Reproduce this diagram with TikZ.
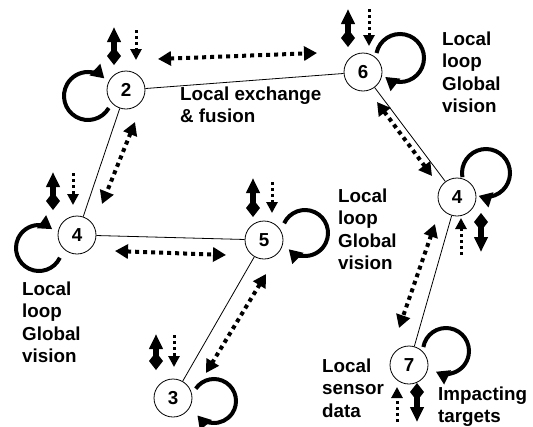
\documentclass[tikz,border=0pt]{standalone}
\usepackage{fontspec}
\setmainfont{Liberation Sans}
\usetikzlibrary{arrows.meta}
\begin{document}
\begin{tikzpicture}[x=1pt,y=-1pt,
  agent/.style={circle,draw,line width=0.8pt,minimum size=38pt,inner sep=0pt,font=\fontsize{18.8}{22.5}\selectfont\bfseries},
  link/.style={line width=0.8pt},
  exch/.style={line width=4pt,dash pattern=on 4pt off 4pt,{Triangle[length=13pt,width=14pt]}-{Triangle[length=13pt,width=14pt]}},
  selfloop/.style={line width=4pt,-{Triangle[length=13pt,width=15pt]}},
  actup/.style={line width=5.5pt,{Triangle[length=15pt,width=13pt]}-{Diamond[length=18pt,width=14pt]}},
  actdown/.style={line width=5.5pt,{Diamond[length=18pt,width=14pt]}-{Triangle[length=15pt,width=13pt]}},
  sense/.style={line width=3pt,dash pattern=on 3pt off 3pt,-{Triangle[length=11pt,width=11pt]}},
  lbl/.style={anchor=base west,align=left,inner sep=0pt,font=\fontsize{18.8}{22.5}\selectfont\bfseries}]
\useasboundingbox (0,0) rectangle (533,426);
% agents
\node[agent] (n2) at (126,90) {2};
\node[agent] (n6) at (363,72) {6};
\node[agent] (n4r) at (457,197) {4};
\node[agent] (n4l) at (77,235) {4};
\node[agent] (n5) at (264,240) {5};
\node[agent] (n3) at (173,398) {3};
\node[agent] (n7) at (409,365) {7};
% links
\draw[link] (n2) -- (n6);
\draw[link] (n2) -- (n4l);
\draw[link] (n4l) -- (n5);
\draw[link] (n5) -- (n3);
\draw[link] (n6) -- (n4r);
\draw[link] (n4r) -- (n7);
% exchange arrows
\coordinate (e1a) at (158,59); \coordinate (e1b) at (317,53);
\coordinate (e2a) at (135,122); \coordinate (e2b) at (102,204);
\coordinate (e3a) at (115,251); \coordinate (e3b) at (226,255);
\coordinate (e4a) at (266,274); \coordinate (e4b) at (206,373);
\coordinate (e5a) at (377,102); \coordinate (e5b) at (432,176);
\coordinate (e6a) at (435,224); \coordinate (e6b) at (399,328);
\draw[exch] (e1a) -- (e1b);
\draw[exch] (e2a) -- (e2b);
\draw[exch] (e3a) -- (e3b);
\draw[exch] (e4a) -- (e4b);
\draw[exch] (e5a) -- (e5b);
\draw[exch] (e6a) -- (e6b);
% self loops
\draw[selfloop] (n2) ++(-38,6) ++(-30:24pt) arc[start angle=-30,end angle=-313,radius=24pt];
\draw[selfloop] (n6) ++(37,-14) ++(168:24pt) arc[start angle=168,end angle=-128,radius=24pt];
\draw[selfloop] (n4r) ++(29,-24) ++(190:24pt) arc[start angle=190,end angle=-108,radius=24pt];
\draw[selfloop] (n4l) ++(-38,13) ++(-25:23pt) arc[start angle=-25,end angle=-305,radius=23pt];
\draw[selfloop] (n5) ++(41,-7) ++(155:23pt) arc[start angle=155,end angle=-135,radius=23pt];
\draw[selfloop] (n3) ++(41,3) ++(146:22pt) arc[start angle=146,end angle=-139,radius=22pt];
\draw[selfloop] (n7) ++(37,-14) ++(170:23pt) arc[start angle=170,end angle=-116,radius=23pt];
% actuation / sensing arrows
\coordinate (a2t) at (114,27); \coordinate (a2b) at (114,65);
\coordinate (s2t) at (136,30); \coordinate (s2b) at (136,60);
\draw[actup] (a2t) -- (a2b); \draw[sense] (s2t) -- (s2b);
\coordinate (a6t) at (348,9); \coordinate (a6b) at (348,47);
\coordinate (s6t) at (369,9); \coordinate (s6b) at (369,46);
\draw[actup] (a6t) -- (a6b); \draw[sense] (s6t) -- (s6b);
\coordinate (a4lt) at (53,172); \coordinate (a4lb) at (53,210);
\coordinate (s4lt) at (73,173); \coordinate (s4lb) at (73,205);
\draw[actup] (a4lt) -- (a4lb); \draw[sense] (s4lt) -- (s4lb);
\coordinate (a5t) at (253,178); \coordinate (a5b) at (253,217);
\coordinate (s5t) at (272,182); \coordinate (s5b) at (272,213);
\draw[actup] (a5t) -- (a5b); \draw[sense] (s5t) -- (s5b);
\coordinate (a3t) at (156,334); \coordinate (a3b) at (156,370);
\coordinate (s3t) at (174,335); \coordinate (s3b) at (174,367);
\draw[actup] (a3t) -- (a3b); \draw[sense] (s3t) -- (s3b);
\coordinate (a4rt) at (481,213); \coordinate (a4rb) at (481,252);
\coordinate (s4rt) at (461,218); \coordinate (s4rb) at (461,255);
\draw[actdown] (a4rt) -- (a4rb); \draw[sense] (s4rb) -- (s4rt);
\coordinate (a7t) at (417,383); \coordinate (a7b) at (417,422);
\coordinate (s7t) at (397,387); \coordinate (s7b) at (397,422);
\draw[actdown] (a7t) -- (a7b); \draw[sense] (s7b) -- (s7t);
% labels (anchor at baseline of last line)
\node[lbl] (t1) at (180,122.5) {Local exchange\\\& fusion};
\node[lbl] (t2) at (442,112.5) {Local\\loop\\Global\\vision};
\node[lbl] (t3) at (338,269.5) {Local\\loop\\Global\\vision};
\node[lbl] (t4) at (22,362.5) {Local\\loop\\Global\\vision};
\node[lbl] (t5) at (322,417) {Local\\sensor\\data};
\node[lbl] (t6) at (438,422.5) {Impacting\\targets};
\end{tikzpicture}
\end{document}
